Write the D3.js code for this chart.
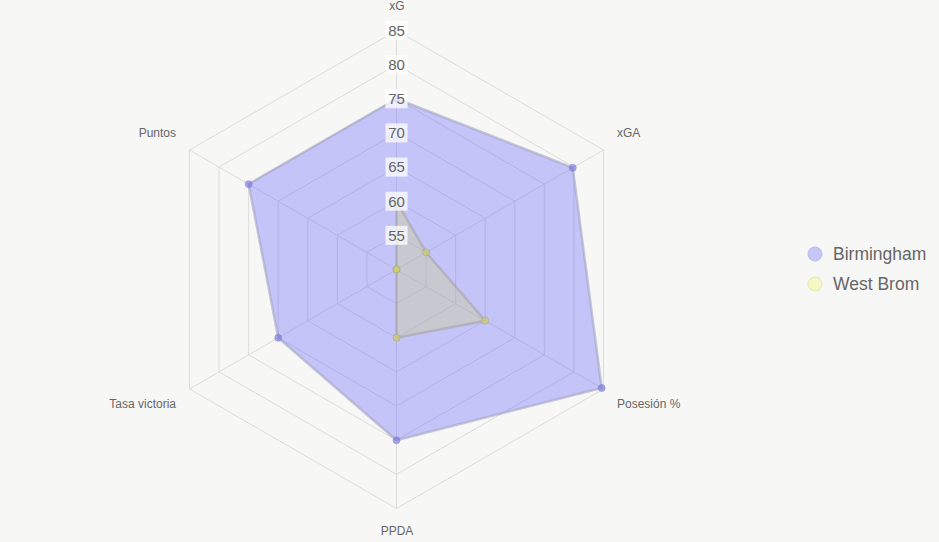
<!DOCTYPE html>
<html>
<head>
<meta charset="utf-8">
<script src="https://cdn.jsdelivr.net/npm/d3@7/dist/d3.min.js"></script>
<style>
  html, body { margin: 0; padding: 0; background: #f7f7f5; }
  svg { display: block; font-family: "Liberation Sans", Arial, sans-serif; }
</style>
</head>
<body>
<svg id="chart" width="939" height="542"></svg>
<script>
// axes, clockwise from the top
const axes = ['xG', 'xGA', 'Posesión %', 'PPDA', 'Tasa victoria', 'Puntos'];
const teams = ['Birmingham', 'West Brom'];
const birmingham = [75, 79.8, 84.7, 75, 70, 75];
const westBrom = [60, 55, 65, 60, 50, 50];
const ticks = [55, 60, 65, 70, 75, 80, 85];

const W = 939, H = 542;
const cx = 396.5, cy = 269.5;
const svg = d3.select('#chart');

const r = d3.scaleLinear().domain([50, 85]).range([0, 239]);
const angle = i => (Math.PI * 2 / axes.length) * i - Math.PI / 2;
const pt = (v, i) => [cx + r(v) * Math.cos(angle(i)), cy + r(v) * Math.sin(angle(i))];

const styles = [
  { fill: 'rgba(100,100,255,0.35)', stroke: 'rgba(165,165,195,0.6)', dot: 'rgba(115,115,225,0.6)', dotStroke: 'rgba(130,130,210,0.5)', legFill: '#c6c6f6', legStroke: '#b8b8ee' },
  { fill: 'rgba(210,210,120,0.3)', stroke: 'rgba(165,165,165,0.6)', dot: 'rgba(205,205,110,0.75)', dotStroke: 'rgba(170,170,150,0.7)', legFill: '#f7f7c6', legStroke: '#e4e4b0' }
];

const g = svg.append('g');

// grid rings
g.selectAll('polygon.ring')
  .data(ticks)
  .enter().append('polygon')
  .attr('class', 'ring')
  .attr('points', t => axes.map((a, i) => pt(t, i).join(',')).join(' '))
  .attr('fill', 'none')
  .attr('stroke', '#dcdcdc')
  .attr('stroke-width', 1);

// spokes
g.selectAll('line.spoke')
  .data(axes)
  .enter().append('line')
  .attr('x1', cx).attr('y1', cy)
  .attr('x2', (d, i) => pt(85, i)[0])
  .attr('y2', (d, i) => pt(85, i)[1])
  .attr('stroke', '#dcdcdc')
  .attr('stroke-width', 1);

// datasets
const series = [birmingham, westBrom];
const line = d3.line().curve(d3.curveLinearClosed);
series.forEach((vals, s) => {
  const pts = vals.map((v, i) => pt(v, i));
  g.append('path')
    .attr('d', line(pts))
    .attr('fill', styles[s].fill)
    .attr('stroke', styles[s].stroke)
    .attr('stroke-width', 2.5)
    .attr('stroke-linejoin', 'round');
  g.selectAll(null)
    .data(pts)
    .enter().append('circle')
    .attr('cx', d => d[0]).attr('cy', d => d[1])
    .attr('r', 3.5)
    .attr('fill', styles[s].dot)
    .attr('stroke', styles[s].dotStroke)
    .attr('stroke-width', 1);
});

// tick labels with backdrop
const tickG = g.selectAll('g.tick')
  .data(ticks)
  .enter().append('g')
  .attr('transform', t => 'translate(' + cx + ',' + (cy - r(t)) + ')');
tickG.append('rect')
  .attr('x', -11).attr('y', -9.5)
  .attr('width', 22).attr('height', 19)
  .attr('fill', 'rgba(255,255,255,0.75)');
tickG.append('text')
  .attr('text-anchor', 'middle')
  .attr('dy', '0.36em')
  .attr('fill', '#666')
  .style('font-size', '15px')
  .text(d => d);

// axis labels
const labelPos = [
  { x: 397, y: 6, anchor: 'middle' },
  { x: 617, y: 133, anchor: 'start' },
  { x: 617, y: 404, anchor: 'start' },
  { x: 397, y: 531, anchor: 'middle' },
  { x: 176, y: 404, anchor: 'end' },
  { x: 176, y: 133, anchor: 'end' }
];
g.selectAll('text.axis')
  .data(axes)
  .enter().append('text')
  .attr('class', 'axis')
  .attr('x', (d, i) => labelPos[i].x)
  .attr('y', (d, i) => labelPos[i].y)
  .attr('dy', '0.36em')
  .attr('text-anchor', (d, i) => labelPos[i].anchor)
  .attr('fill', '#666')
  .style('font-size', '12px')
  .text(d => d);

// legend
const leg = svg.append('g')
  .selectAll('g')
  .data(teams)
  .enter().append('g')
  .attr('transform', (d, i) => 'translate(' + 815 + ',' + (254 + i * 30) + ')');
leg.append('circle')
  .attr('r', 7)
  .attr('fill', (d, i) => styles[i].legFill)
  .attr('stroke', (d, i) => styles[i].legStroke)
  .attr('stroke-width', 1);
leg.append('text')
  .attr('x', 18)
  .attr('dy', '0.36em')
  .attr('fill', '#666')
  .style('font-size', '17.5px')
  .text(d => d);
</script>
</body>
</html>
